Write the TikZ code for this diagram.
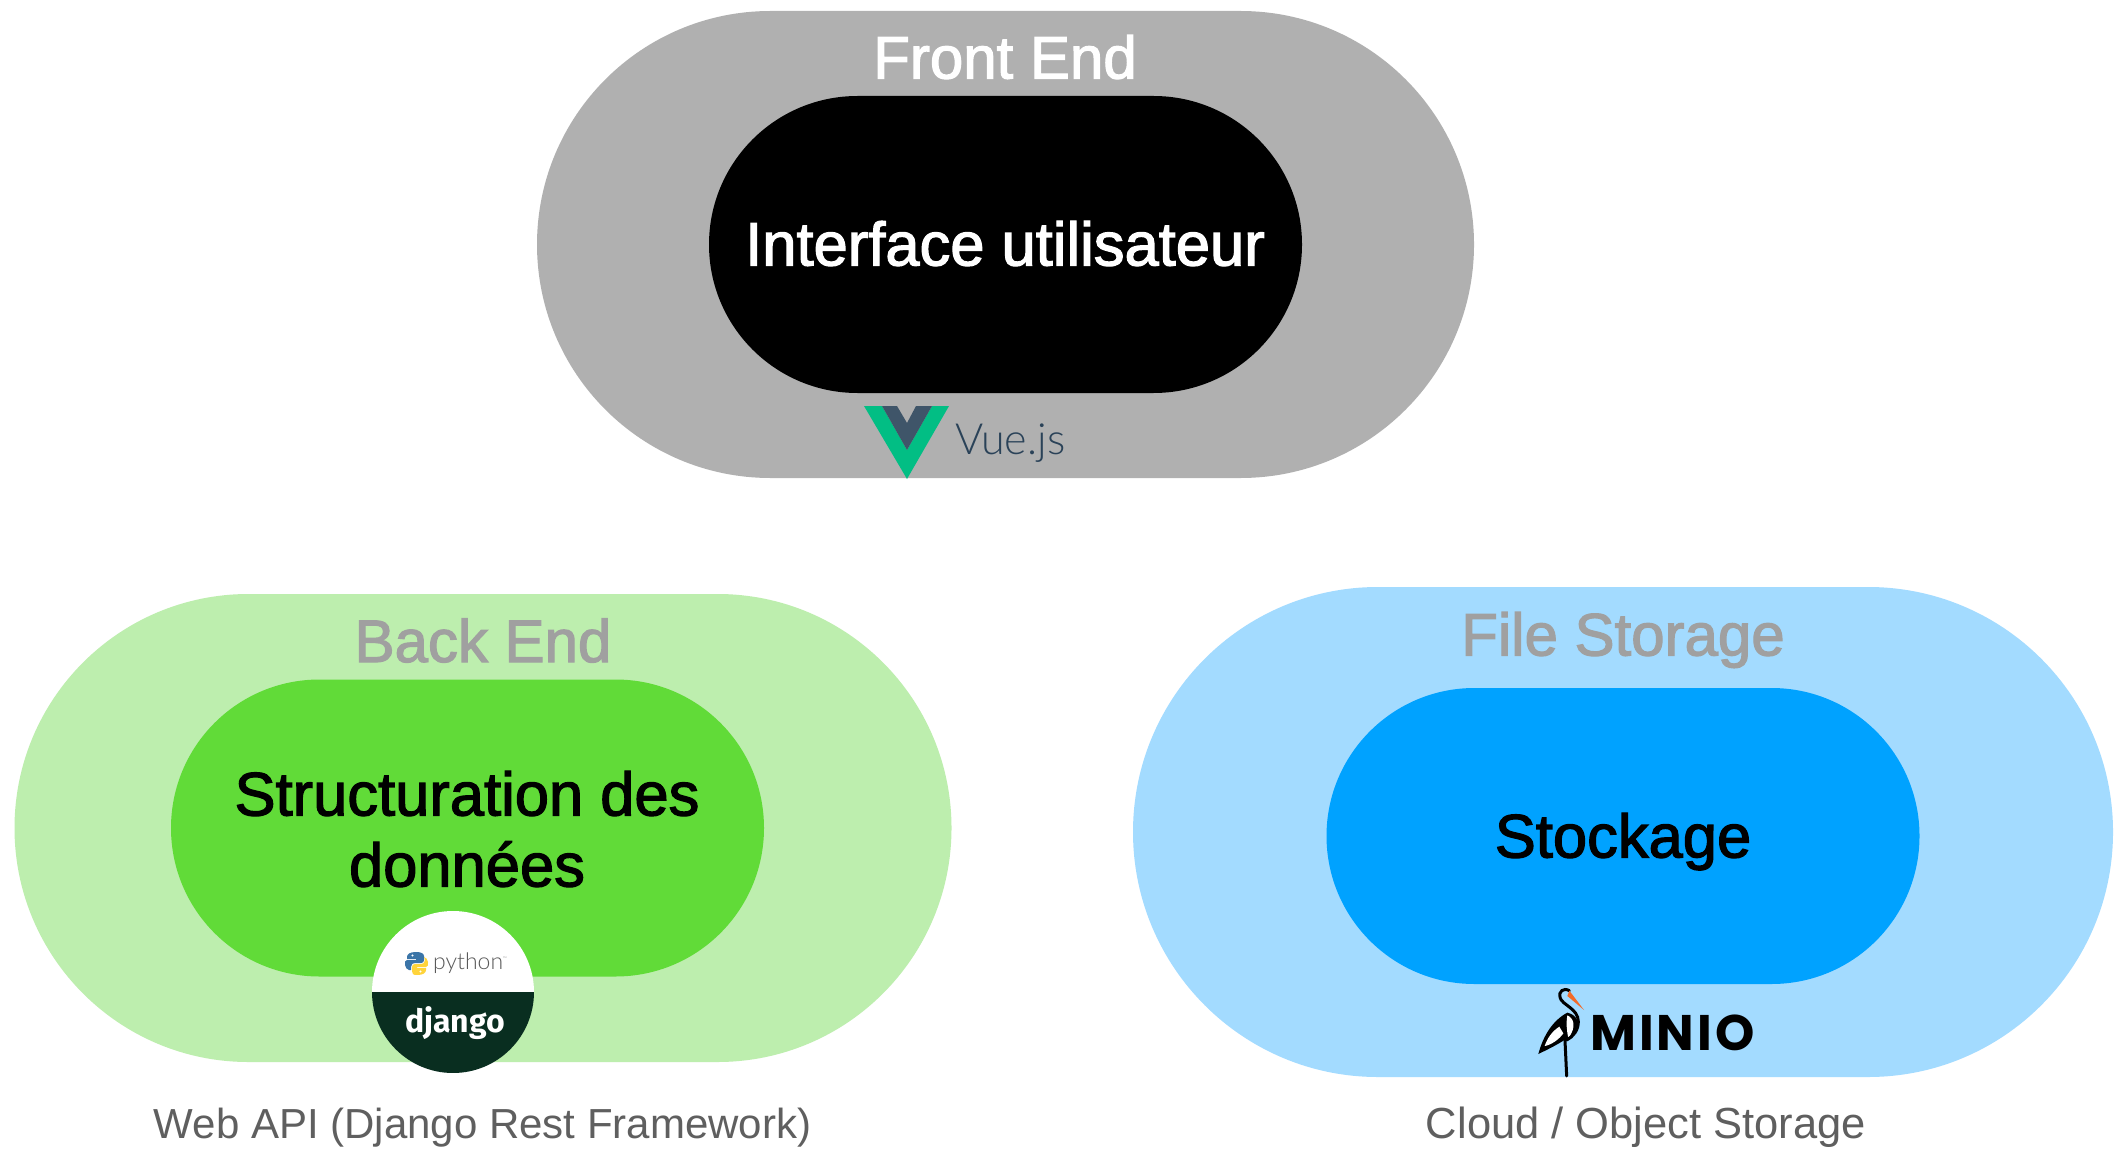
\documentclass[tikz,border=0pt]{standalone}
\usepackage{fontspec}
\setmainfont{Liberation Sans}
\newfontfamily\medfont[FakeBold=2]{Liberation Sans}
\newfontfamily\vuefont{Lato Light}
\newfontfamily\djfont{Fira Sans}
\newfontfamily\miniofont[LetterSpace=6]{Poppins}
\definecolor{outergray}{HTML}{B0B0B0}
\definecolor{outergreen}{HTML}{BDEEAE}
\definecolor{innergreen}{HTML}{61DB38}
\definecolor{outerblue}{HTML}{A3DBFF}
\definecolor{innerblue}{HTML}{00A2FF}
\definecolor{titlegray}{HTML}{A0A0A0}
\definecolor{captiongray}{HTML}{5F5F5F}
\definecolor{vuegreen}{HTML}{02BE84}
\definecolor{vuedark}{HTML}{3F5569}
\definecolor{vuetext}{HTML}{2A4258}
\definecolor{djangodark}{HTML}{092E20}
\definecolor{pyblue}{HTML}{3B75A8}
\definecolor{pyyellow}{HTML}{FFD43B}
\definecolor{storkorange}{HTML}{F26B2A}
\tikzset{
  pill/.style n args={3}{rectangle,draw=none,fill=#1,inner sep=0pt,outer sep=0pt,
    minimum width=#2,minimum height=#3,rounded corners=0.4999*#3},
  heading/.style={anchor=base,inner sep=0pt,font=\medfont\fontsize{60}{66}\selectfont},
  core/.style={anchor=base,inner sep=0pt,align=center,font=\medfont\fontsize{61.5}{71}\selectfont},
  caption/.style={anchor=base,inner sep=0pt,text=captiongray,font=\fontsize{42}{48}\selectfont},
}
\begin{document}
\begin{tikzpicture}[x=1pt,y=-1pt]
\useasboundingbox (0,0) rectangle (2116,1150);
\fill[white] (0,0) rectangle (2116,1150);
% pills
\node[pill={outergray}{937pt}{467pt}] (frontouter) at (1005.5,244.5) {};
\node[pill={black}{593pt}{297pt}] (frontinner) at (1005.5,244.5) {};
\node[pill={outergreen}{937pt}{468pt}] (backouter) at (483,828) {};
\node[pill={innergreen}{593pt}{297pt}] (backinner) at (467.5,828) {};
\node[pill={outerblue}{980pt}{490pt}] (fileouter) at (1623,832) {};
\node[pill={innerblue}{593pt}{296pt}] (fileinner) at (1623,836) {};
% texts
\node[heading,text=white] (fronttitle) at (1005,78.5) {Front End};
\node[core,text=white] (fronttext) at (1005,265.5) {Interface utilisateur};
\node[heading,text=titlegray] (backtitle) at (483,662) {Back End};
\node[core,text=black,anchor=center] (backtext) at (467,829) {Structuration des\\données};
\node[heading,text=titlegray] (filetitle) at (1623,655.5) {File Storage};
\node[core,text=black] (filetext) at (1623,857.5) {Stockage};
\node[caption] (backcaption) at (482.5,1138) {Web API (Django Rest Framework)};
\node[caption,font=\fontsize{43.5}{48}\selectfont] (filecaption) at (1646,1138) {Cloud / Object Storage};
% Vue logo
\fill[vuegreen] (864,406) -- (882,406) -- (907,450) -- (932,406) -- (949,406) -- (907,479) -- cycle;
\fill[vuedark] (882,406) -- (897,406) -- (907,423) -- (916,406) -- (932,406) -- (907,450) -- cycle;
\node[anchor=base west,inner sep=0pt,text=vuetext,font=\vuefont\fontsize{43}{48}\selectfont] (vuelabel) at (955,454) {Vue.js};
% Django badge
\begin{scope}
\clip (453,992) circle[radius=81];
\fill[white] (372,911) rectangle (534,992);
\fill[djangodark] (372,992) rectangle (534,1073);
\end{scope}
\node[anchor=base,inner sep=0pt,text=white,font=\djfont\bfseries\fontsize{32}{38}\selectfont] (djangolabel) at (455,1032) {django};
\node[anchor=base west,inner sep=0pt,text=black!65,font=\vuefont\fontsize{23}{30}\selectfont] (pythonlabel) at (433,969) {python\raisebox{9pt}{\fontsize{5}{5}\selectfont ™}};
% Python logo
\fill[pyblue] (416,952) .. controls (410,952) and (407,954) .. (407,957) -- (407,959) -- (416,959) -- (416,960) -- (407,960) .. controls (403,960) and (405,970) .. (409,970) -- (411,970) -- (411,967) .. controls (411,964) and (413,963) .. (415,963) -- (421,963) .. controls (423,963) and (424,962) .. (424,960) -- (424,956) .. controls (424,953) and (420,952) .. (416,952) -- cycle;
\fill[pyyellow] (417,975) .. controls (423,975) and (426,973) .. (426,970) -- (426,968) -- (417,968) -- (417,967) -- (426,967) .. controls (430,967) and (428,957) .. (424,957) -- (425,960) .. controls (425,963) and (423,964) .. (421,964) -- (415,964) .. controls (413,964) and (412,965) .. (412,967) -- (412,971) .. controls (412,974) and (413,975) .. (417,975) -- cycle;
\fill[white] (412.5,955.5) circle[radius=1.1] (420.5,971.5) circle[radius=1.1];
% MinIO logo
\node[anchor=base west,inner sep=0pt,text=black,font=\miniofont\bfseries\fontsize{50}{54}\selectfont] (miniolabel) at (1590,1050) {MINIO};
\begin{scope}[shift={(1510,970)},x=0.3333pt,y=-0.3333pt]
  \fill[black] (85,252) .. controls (100,195) and (130,150) .. (172,128) .. controls (205,135) and (212,165) .. (195,190) .. controls (185,205) and (172,212) .. (160,212) .. controls (140,225) and (110,240) .. (85,252) -- cycle;
  \fill[white] (172,136) .. controls (192,145) and (200,170) .. (175,205) .. controls (170,180) and (168,160) .. (172,136) -- cycle;
  \fill[white] (148,170) .. controls (125,185) and (112,205) .. (104,228) .. controls (125,225) and (150,205) .. (160,190) -- cycle;
  \draw[black,line width=3pt,line cap=round] (165,212) -- (170,318);
  \draw[black,line width=3pt,line cap=round] (178,62) .. controls (160,52) and (145,65) .. (150,82) .. controls (155,105) and (205,115) .. (205,155) .. controls (205,180) and (190,200) .. (170,210);
  \fill[storkorange] (178,62) -- (222,120) -- (172,78) -- cycle;
\end{scope}
\end{tikzpicture}
\end{document}
